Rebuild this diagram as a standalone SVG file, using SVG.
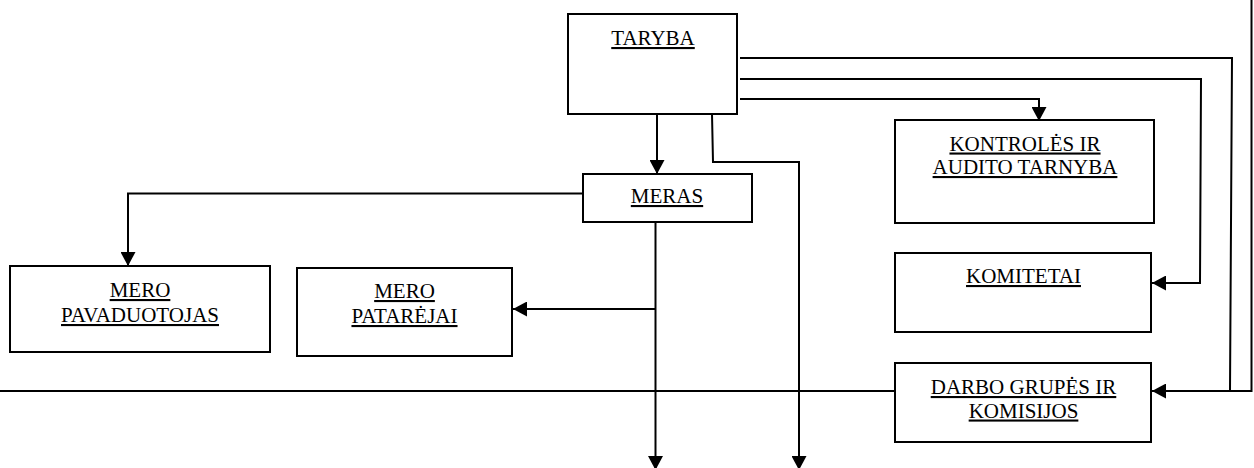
<svg xmlns="http://www.w3.org/2000/svg" width="1254" height="468" viewBox="0 0 1254 468">
<style>
.box{fill:#fff;stroke:#000;stroke-width:2}
.lbl{font-family:"Liberation Serif","Times New Roman",serif;font-size:21px;fill:#000;text-anchor:middle;text-decoration:underline}
.ln{fill:none;stroke:#000;stroke-width:2}
</style>
<defs>
<marker id="ah" markerUnits="userSpaceOnUse" markerWidth="14" markerHeight="15" refX="14" refY="7.5" orient="auto">
<path d="M0,0 L14,7.5 L0,15 Z" fill="#000"/>
</marker>
</defs>
<g id="connectors">
<line class="ln" x1="657" y1="114" x2="657" y2="174" marker-end="url(#ah)"/>
<polyline class="ln" points="712,114 713,162 799,162 799,470" marker-end="url(#ah)"/>
<polyline class="ln" points="740,99 1039,99 1039,121" marker-end="url(#ah)"/>
<polyline class="ln" points="740,79 1201,79 1200,283 1152,283" marker-end="url(#ah)"/>
<polyline class="ln" points="740,58 1232,58 1230,391 1152,391" marker-end="url(#ah)"/>
<polyline class="ln" points="1251.5,0 1251.5,391 1230,391"/>
<line class="ln" x1="0" y1="391" x2="895" y2="391"/>
<polyline class="ln" points="583,193.5 128,193.5 128,266" marker-end="url(#ah)"/>
<line class="ln" x1="655.5" y1="222" x2="655.5" y2="470" marker-end="url(#ah)"/>
<line class="ln" x1="655.5" y1="309" x2="513" y2="309" marker-end="url(#ah)"/>
</g>
<g id="taryba">
<rect class="box" x="568" y="14" width="169" height="100"/>
<text class="lbl" x="653" y="45">TARYBA</text>
</g>
<g id="meras">
<rect class="box" x="583" y="174" width="169" height="48"/>
<text class="lbl" x="667" y="203">MERAS</text>
</g>
<g id="kontroles">
<rect class="box" x="895" y="120" width="259" height="103"/>
<text class="lbl" x="1025" y="150.5">KONTROLĖS IR</text>
<text class="lbl" x="1025" y="174">AUDITO TARNYBA</text>
</g>
<g id="komitetai">
<rect class="box" x="895" y="253" width="256" height="79"/>
<text class="lbl" x="1023.5" y="283">KOMITETAI</text>
</g>
<g id="darbo">
<rect class="box" x="895" y="363" width="256" height="79"/>
<text class="lbl" x="1023.5" y="394">DARBO GRUPĖS IR</text>
<text class="lbl" x="1023.5" y="417.5">KOMISIJOS</text>
</g>
<g id="pavaduotojas">
<rect class="box" x="10" y="266" width="260" height="86"/>
<text class="lbl" x="140" y="297">MERO</text>
<text class="lbl" x="140" y="322">PAVADUOTOJAS</text>
</g>
<g id="patarejai">
<rect class="box" x="297" y="268" width="215" height="88"/>
<text class="lbl" x="404.5" y="298">MERO</text>
<text class="lbl" x="404.5" y="323">PATARĖJAI</text>
</g>
</svg>
